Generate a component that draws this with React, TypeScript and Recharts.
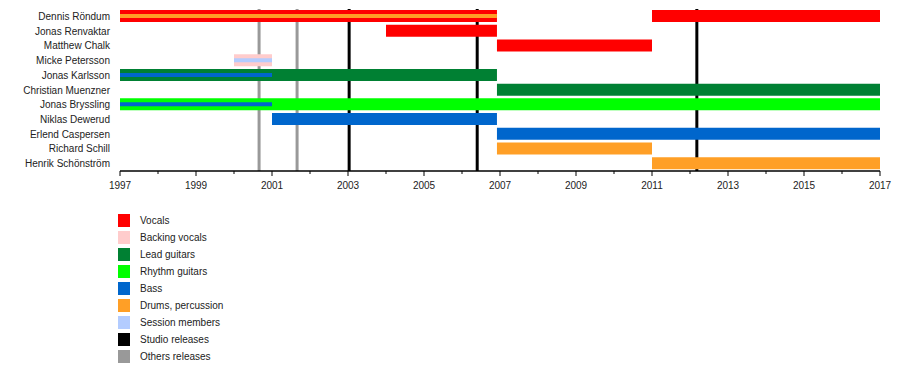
import React from "react";
import { BarChart, Bar, XAxis, YAxis, ReferenceLine } from "recharts";

type Span = [number, number] | null;

const members = [
	"Dennis Röndum",
	"Jonas Renvaktar",
	"Matthew Chalk",
	"Micke Petersson",
	"Jonas Karlsson",
	"Christian Muenzner",
	"Jonas Bryssling",
	"Niklas Dewerud",
	"Erlend Caspersen",
	"Richard Schill",
	"Henrik Schönström",
];

// one entry per member, null = not in that role
const vocals: Span[] = [[1997, 2006.92], [2004, 2006.92], [2006.92, 2011], null, null, null, null, null, null, null, null];
const vocalsLater: Span[] = [[2011, 2017], null, null, null, null, null, null, null, null, null, null];
const backingVocals: Span[] = [null, null, null, [2000, 2001], null, null, null, null, null, null, null];
const leadGuitars: Span[] = [null, null, null, null, [1997, 2006.92], [2006.92, 2017], null, null, null, null, null];
const rhythmGuitars: Span[] = [null, null, null, null, null, null, [1997, 2017], null, null, null, null];
const bass: Span[] = [null, null, null, null, null, null, null, [2001, 2006.92], [2006.92, 2017], null, null];
const drums: Span[] = [null, null, null, null, null, null, null, null, null, [2006.92, 2011], [2011, 2017]];
// thin inner bars
const drumsInner: Span[] = [[1997, 2006.92], null, null, null, null, null, null, null, null, null, null];
const sessionInner: Span[] = [null, null, null, [2000, 2001], null, null, null, null, null, null, null];
const bassInner: Span[] = [null, null, null, null, [1997, 2001], null, [1997, 2001], null, null, null, null];

const studioReleases = [2003.03, 2006.4, 2012.18];
const otherReleases = [2000.66, 2001.66];

const years = Array.from({ length: 21 }, (_, i) => 1997 + i);

const colors = {
	vocals: "#ff0000",
	backing: "#ffcccc",
	lead: "#008033",
	rhythm: "#00ff00",
	bass: "#0066cc",
	drums: "#ff9f26",
	session: "#b3ccff",
	studio: "#000000",
	others: "#999999",
};

const series = [
	{ key: "vocals", color: colors.vocals, size: 12 },
	{ key: "vocalsLater", color: colors.vocals, size: 12 },
	{ key: "backingVocals", color: colors.backing, size: 12 },
	{ key: "leadGuitars", color: colors.lead, size: 12 },
	{ key: "rhythmGuitars", color: colors.rhythm, size: 12 },
	{ key: "bass", color: colors.bass, size: 12 },
	{ key: "drums", color: colors.drums, size: 12 },
	{ key: "drumsInner", color: colors.drums, size: 4 },
	{ key: "sessionInner", color: colors.session, size: 4 },
	{ key: "bassInner", color: colors.bass, size: 4 },
];

const legendItems = [
	{ label: "Vocals", color: colors.vocals },
	{ label: "Backing vocals", color: colors.backing },
	{ label: "Lead guitars", color: colors.lead },
	{ label: "Rhythm guitars", color: colors.rhythm },
	{ label: "Bass", color: colors.bass },
	{ label: "Drums, percussion", color: colors.drums },
	{ label: "Session members", color: colors.session },
	{ label: "Studio releases", color: colors.studio },
	{ label: "Others releases", color: colors.others },
];

const data = members.map((name, i) => ({
	name,
	vocals: vocals[i],
	vocalsLater: vocalsLater[i],
	backingVocals: backingVocals[i],
	leadGuitars: leadGuitars[i],
	rhythmGuitars: rhythmGuitars[i],
	bass: bass[i],
	drums: drums[i],
	drumsInner: drumsInner[i],
	sessionInner: sessionInner[i],
	bassInner: bassInner[i],
}));

const font = "'Liberation Sans', Arial, sans-serif";
const W = 900;
const H = 190;

const YearTick = (props: any) => {
	const { x, y, payload } = props;
	const major = (payload.value - 1997) % 2 === 0;
	return (
		<g>
			<line x1={x} x2={x} y1={y} y2={y + (major ? 5 : 3)} stroke="#000" strokeWidth={1} />
			{major && (
				<text x={x} y={y + 18} textAnchor="middle" fontSize={10} fontFamily={font} fill="#222">
					{payload.value}
				</text>
			)}
		</g>
	);
};

const NameTick = (props: any) => {
	const { x, y, payload } = props;
	return (
		<text x={x} y={y} dy={3.5} textAnchor="end" fontSize={10} fontFamily={font} fill="#222">
			{payload.value}
		</text>
	);
};

export default function App() {
	return (
		<div style={{ position: "absolute", left: 0, top: 0, width: 900, height: 380, background: "#fff" }}>
			{/* back layer: axes and release lines */}
			<div style={{ position: "absolute", left: 0, top: 0 }}>
				<BarChart width={W} height={H} data={data} layout="vertical" margin={{ top: 9, right: 20, bottom: 0, left: 0 }}>
					<XAxis
						type="number"
						domain={[1997, 2017]}
						ticks={years}
						interval={0}
						allowDataOverflow
						height={19}
						tickLine={false}
						tickSize={0}
						tickMargin={0}
						tick={<YearTick />}
						axisLine={{ stroke: "#000", strokeWidth: 1.5 }}
					/>
					<YAxis
						type="category"
						dataKey="name"
						width={120}
						interval={0}
						tickLine={false}
						axisLine={false}
						tickSize={0}
						tickMargin={10}
						tick={<NameTick />}
					/>
					{studioReleases.map((v) => (
						<ReferenceLine key={"s" + v} x={v} stroke={colors.studio} strokeWidth={3} />
					))}
					{otherReleases.map((v) => (
						<ReferenceLine key={"o" + v} x={v} stroke={colors.others} strokeWidth={3} />
					))}
				</BarChart>
			</div>
			{/* front layer: member bars */}
			<div style={{ position: "absolute", left: 0, top: 0 }}>
				<BarChart width={W} height={H} data={data} layout="vertical" margin={{ top: 9, right: 20, bottom: 19, left: 120 }}>
					<XAxis type="number" domain={[1997, 2017]} allowDataOverflow hide />
					{series.map((s) => (
						<YAxis key={s.key} yAxisId={s.key} type="category" dataKey="name" width={0} hide />
					))}
					{series.map((s) => (
						<Bar
							key={s.key}
							dataKey={s.key}
							yAxisId={s.key}
							fill={s.color}
							barSize={s.size}
							isAnimationActive={false}
						/>
					))}
				</BarChart>
			</div>
			<div style={{ position: "absolute", left: 118, top: 212, fontFamily: font, fontSize: 10, color: "#222" }}>
				{legendItems.map((item) => (
					<div key={item.label} style={{ display: "flex", alignItems: "center", height: 17 }}>
						<span style={{ display: "inline-block", width: 12, height: 13, background: item.color, marginRight: 10 }} />
						<span>{item.label}</span>
					</div>
				))}
			</div>
		</div>
	);
}
